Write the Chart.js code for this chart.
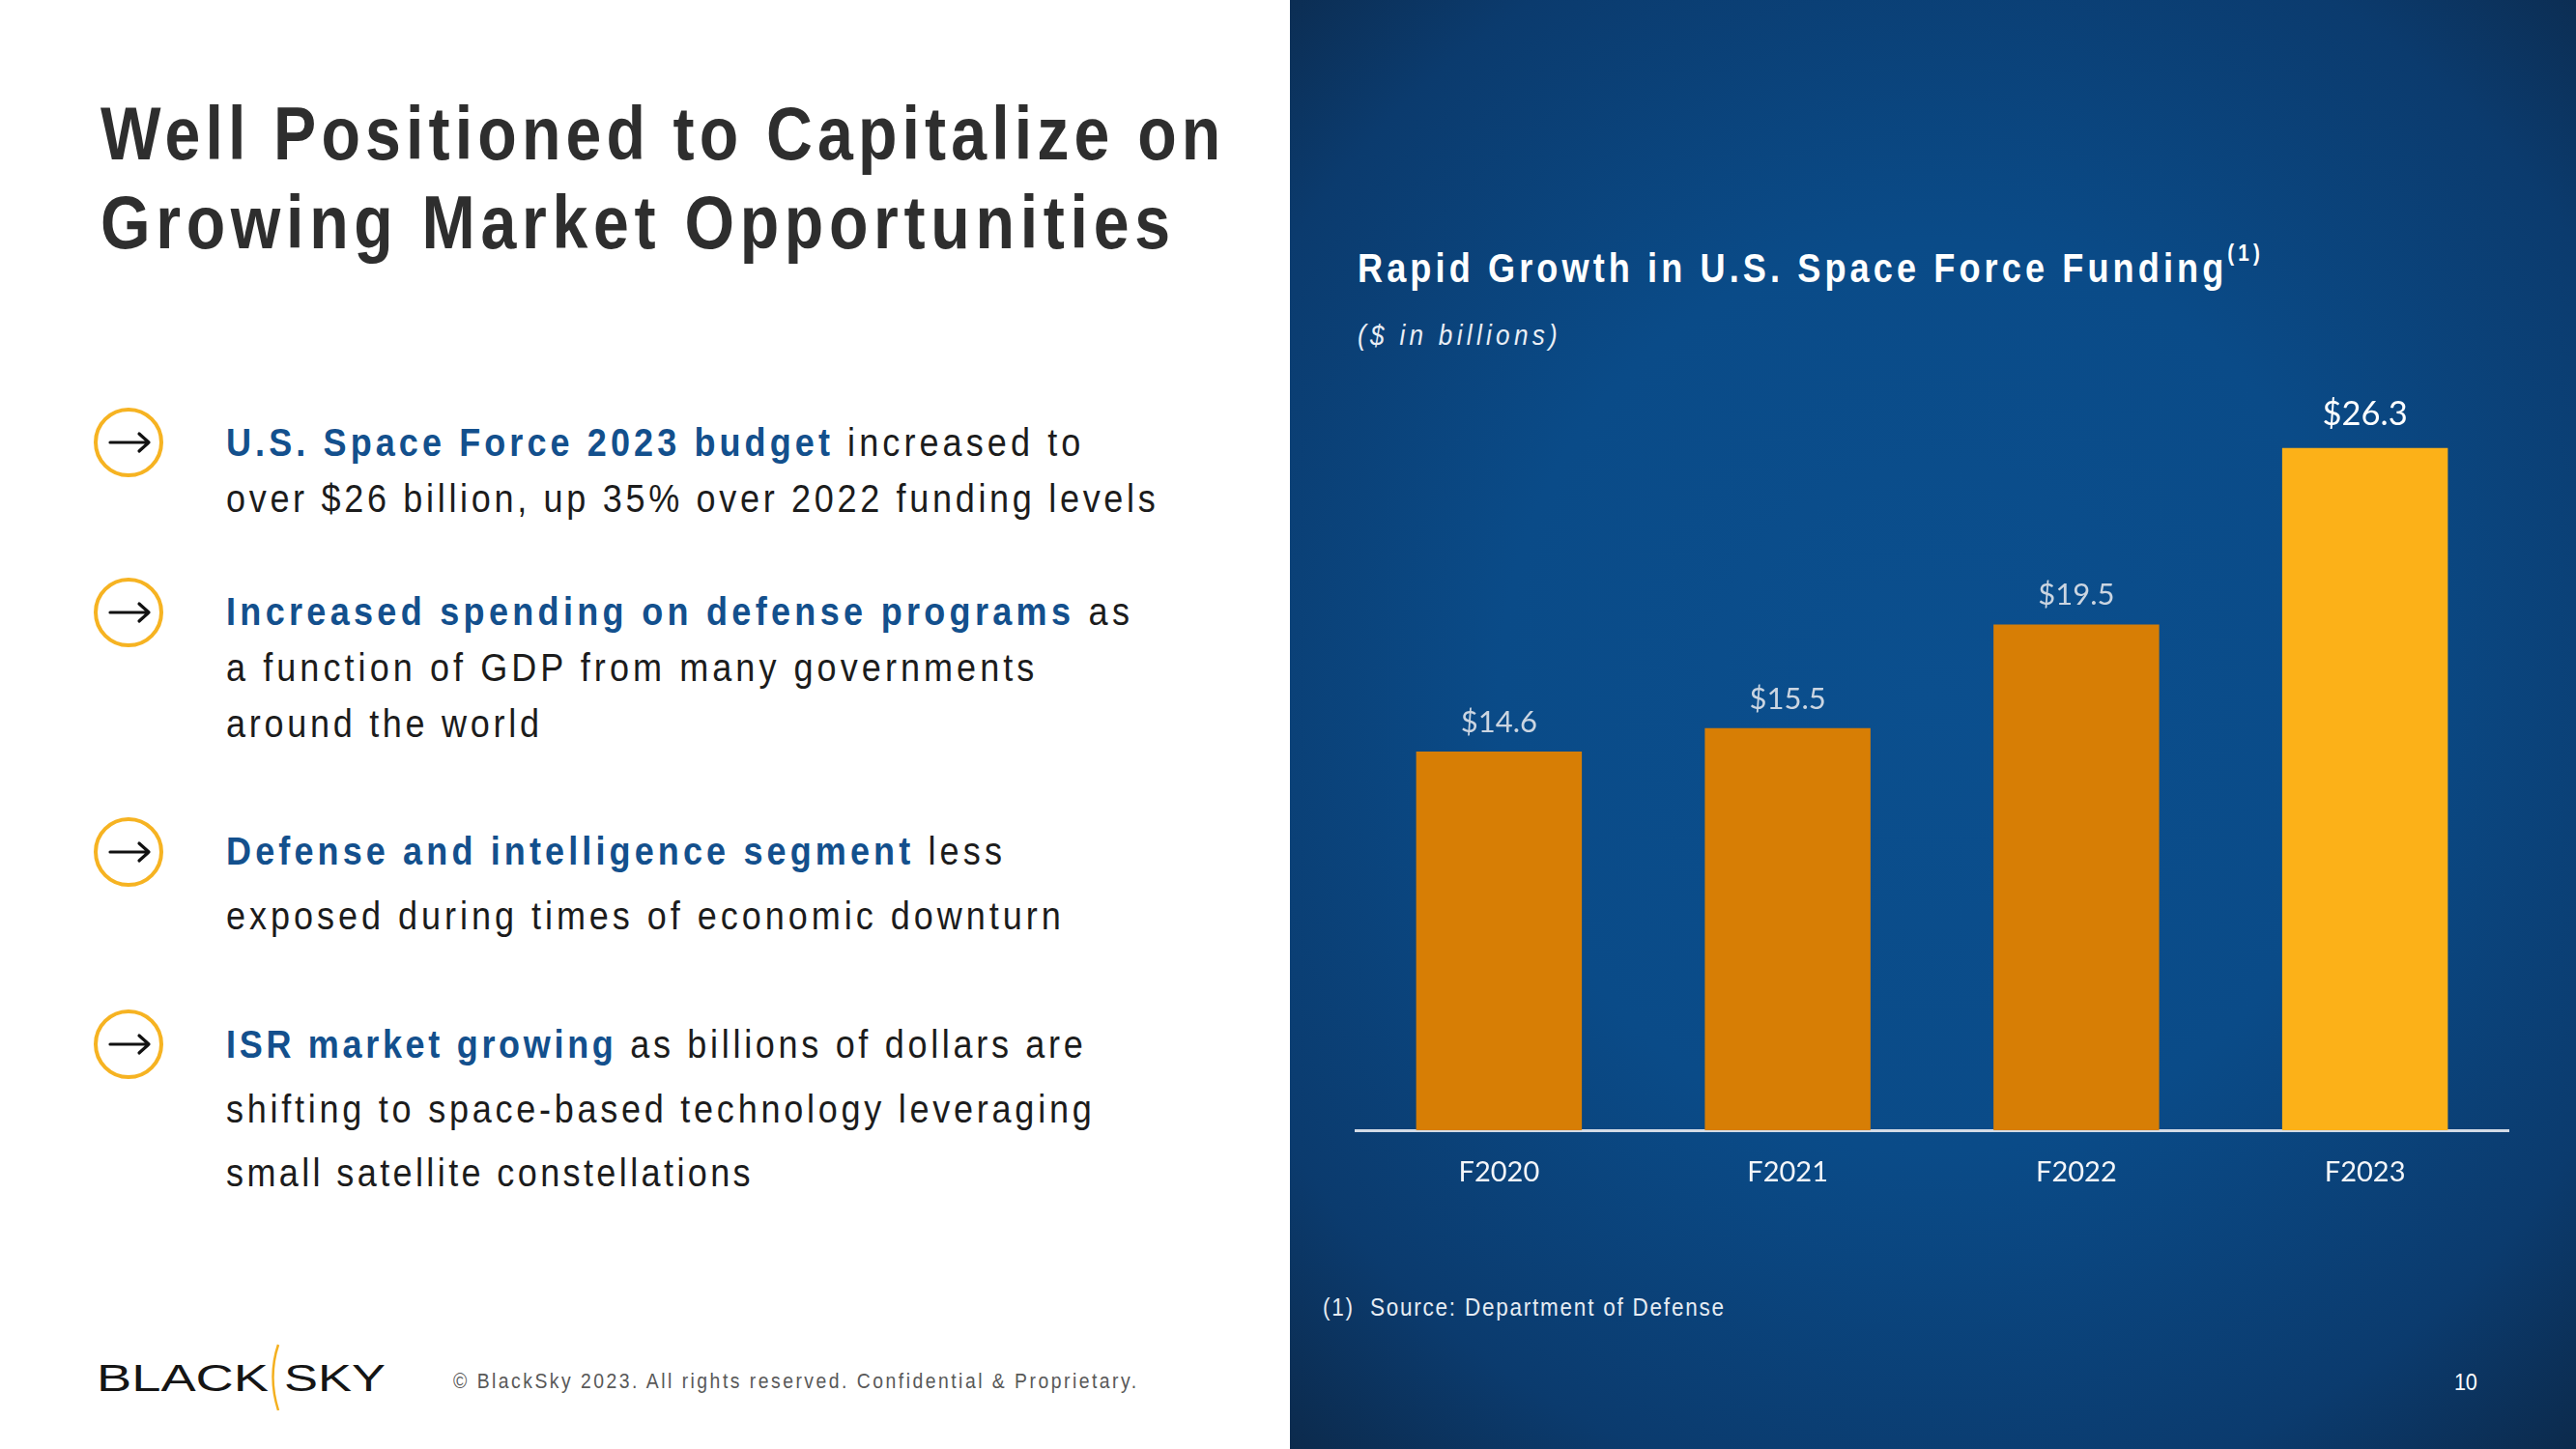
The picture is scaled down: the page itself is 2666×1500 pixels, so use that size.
<!DOCTYPE html>
<html>
<head>
<meta charset="utf-8">
<title>Rapid Growth in U.S. Space Force Funding</title>
<script src="https://cdn.jsdelivr.net/npm/chart.js@4.4.1/dist/chart.umd.min.js"></script>
<style>
  html, body { margin: 0; padding: 0; }
  body {
    width: 2666px; height: 1500px; position: relative; overflow: hidden;
    background: #ffffff; font-family: "Liberation Sans", Arial, sans-serif;
  }
  .txt { position: absolute; white-space: nowrap; line-height: 1; transform-origin: 0 0; }
  .title { font-size: 77px; font-weight: bold; color: #2e2e2e; }
  .bullet { font-size: 40px; color: #1c1c1c; }
  .bullet b { color: #13508d; }
  .logo { font-size: 38px; color: #151515; }
  .panel {
    position: absolute; left: 1335px; top: 0; width: 1331px; height: 1500px;
    background: radial-gradient(ellipse 75% 70% at 50% 48%, #0b4f8e 0%, #0a4b88 45%, #0b3b6e 80%, #0c2a4c 100%);
  }
  .white { color: #ffffff; }
  sup { font-size: 24px; font-weight: bold; vertical-align: 22px; line-height: 0; }
  #chartWrap { position: absolute; left: 1402px; top: 300px; width: 1195px; height: 1000px; }
  svg.deco { position: absolute; left: 0; top: 0; }
</style>
</head>
<body>

<!-- left side -->
<div class="txt title" data-base="165" data-w="1159" data-n="0.86" style="left:104px">Well Positioned to Capitalize on</div>
<div class="txt title" data-base="257" data-w="1107" data-n="0.86" style="left:104px">Growing Market Opportunities</div>

<div class="txt bullet" data-base="472" data-w="884" style="left:234px"><b>U.S. Space Force 2023 budget</b> increased to</div>
<div class="txt bullet" data-base="530" data-w="962" style="left:234px">over $26 billion, up 35% over 2022 funding levels</div>

<div class="txt bullet" data-base="647" data-w="935" style="left:234px"><b>Increased spending on defense programs</b> as</div>
<div class="txt bullet" data-base="705" data-w="836" style="left:234px">a function of GDP from many governments</div>
<div class="txt bullet" data-base="763" data-w="324" style="left:234px">around the world</div>

<div class="txt bullet" data-base="895" data-w="803" style="left:234px"><b>Defense and intelligence segment</b> less</div>
<div class="txt bullet" data-base="962" data-w="864" style="left:234px">exposed during times of economic downturn</div>

<div class="txt bullet" data-base="1095" data-w="887" style="left:234px"><b>ISR market growing</b> as billions of dollars are</div>
<div class="txt bullet" data-base="1162" data-w="896" style="left:234px">shifting to space-based technology leveraging</div>
<div class="txt bullet" data-base="1228" data-w="543" style="left:234px">small satellite constellations</div>

<div class="txt logo" data-base="1440" data-scale="178" style="left:100px">BLACK</div>
<div class="txt logo" data-base="1440" data-scale="105" style="left:294px">SKY</div>
<div class="txt" data-base="1438" data-w="707" style="left:469px;font-size:21.5px;color:#595959">© BlackSky 2023. All rights reserved. Confidential &amp; Proprietary.</div>

<svg class="deco" width="1335" height="1500" id="deco"></svg>

<!-- right side -->
<div class="panel"></div>
<div class="txt white" data-base="293" data-w="934" data-n="0.86" style="left:1405px;font-size:42px;font-weight:bold">Rapid Growth in U.S. Space Force Funding<sup>(1)</sup></div>
<div class="txt" data-base="358" data-w="207" style="left:1405px;font-size:29px;font-style:italic;color:#e9eef5">($ in billions)</div>
<div id="chartWrap"><canvas id="fundingChart" width="1195" height="1000"></canvas></div>
<div class="txt" data-base="1362" data-w="415" style="left:1369px;font-size:25px;color:#e6ecf3">(1)&nbsp;&nbsp;Source: Department of Defense</div>
<div class="txt white" data-base="1439" data-w="24" style="left:2540px;font-size:24px">10</div>

<script>
/* ==========================================
   Space Force funding chart
========================================== */

const categories = ["F2020", "F2021", "F2022", "F2023"];
const funding = [14.6, 15.5, 19.5, 26.3];
const bulletCenters = [458, 634, 882, 1081];

const ORANGE = "#d77e05";
const YELLOW = "#fcb118";
const NARROW = 0.9; // the slide uses a condensed face with wide tracking
const SVG_NS = "http://www.w3.org/2000/svg";

// place each text line on its baseline, then fit it to the measured width
function layoutText() {
  document.querySelectorAll("[data-base]").forEach((el) => {
    const size = parseFloat(getComputedStyle(el).fontSize);
    el.style.top = `${+el.dataset.base - size * 0.8465}px`;
    if (el.dataset.scale) {
      const w = el.getBoundingClientRect().width;
      el.style.transform = `scaleX(${+el.dataset.scale / w})`;
      return;
    }
    const squeeze = el.dataset.n ? +el.dataset.n : NARROW;
    el.style.letterSpacing = "0px";
    const natural = el.offsetWidth;
    const n = el.textContent.length;
    el.style.transform = `scaleX(${squeeze})`;
    if (n > 1) el.style.letterSpacing = `${(+el.dataset.w / squeeze - natural) / (n - 1)}px`;
  });
}

function svgEl(tag, attrs) {
  const node = document.createElementNS(SVG_NS, tag);
  Object.entries(attrs).forEach(([k, v]) => node.setAttribute(k, v));
  return node;
}

function drawDecorations() {
  const deco = document.getElementById("deco");
  bulletCenters.forEach((cy) => {
    deco.appendChild(svgEl("circle", { cx: 133, cy, r: 34, fill: "none", stroke: "#f6b322", "stroke-width": 4 }));
    deco.appendChild(svgEl("path", {
      d: `M114 ${cy} H154 M144 ${cy - 9} L154 ${cy} L144 ${cy + 9}`,
      fill: "none", stroke: "#111", "stroke-width": 3.2, "stroke-linecap": "round", "stroke-linejoin": "round",
    }));
  });
  deco.appendChild(svgEl("path", { d: "M288 1392 Q277 1425 288 1460", fill: "none", stroke: "#f4b01f", "stroke-width": 2.5 }));
}

const valueLabels = {
  id: "valueLabels",
  afterDatasetsDraw(chart) {
    const { ctx } = chart;
    const meta = chart.getDatasetMeta(0);
    ctx.save();
    ctx.textAlign = "center";
    ctx.textBaseline = "alphabetic";
    meta.data.forEach((bar, i) => {
      const last = i === funding.length - 1;
      ctx.font = `${last ? 34.5 : 31}px Lato, "Open Sans", sans-serif`;
      ctx.fillStyle = last ? "#ffffff" : "#cbd5e1";
      ctx.fillText(`$${funding[i].toFixed(1)}`, bar.x, bar.y - (last ? 24 : 20));
    });
    ctx.restore();
  },
};

function renderChart() {
  const ctx = document.getElementById("fundingChart").getContext("2d");
  new Chart(ctx, {
    type: "bar",
    data: {
      labels: categories,
      datasets: [{
        data: funding,
        backgroundColor: (c) => (c.dataIndex === funding.length - 1 ? YELLOW : ORANGE),
        borderWidth: 0,
        categoryPercentage: 1,
        barPercentage: 0.574,
      }],
    },
    options: {
      responsive: false,
      animation: false,
      devicePixelRatio: 1,
      layout: { padding: { top: 64.5, left: 0, right: 0, bottom: 0 } },
      plugins: { legend: { display: false }, tooltip: { enabled: false } },
      scales: {
        y: { display: false, min: 0, max: 30 },
        x: {
          grid: { display: false, drawTicks: false },
          border: { display: true, color: "#d3dbe6", width: 3 },
          ticks: { color: "#f4f6f9", padding: 26, font: { family: "Lato", size: 29 } },
          afterFit: (scale) => { scale.height = 130; },
        },
      },
    },
    plugins: [valueLabels],
  });
}

layoutText();
drawDecorations();
renderChart();
</script>
</body>
</html>
